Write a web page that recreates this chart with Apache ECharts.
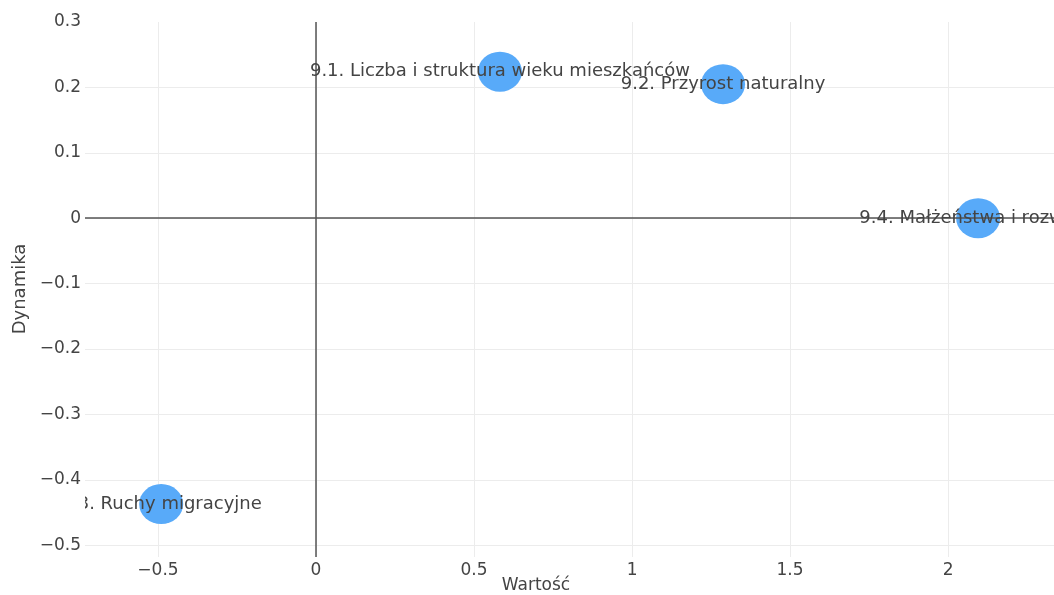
<!DOCTYPE html>
<html>
<head>
<meta charset="utf-8">
<script src="https://cdn.jsdelivr.net/npm/echarts@6/dist/echarts.min.js"></script>
<style>
html,body{margin:0;padding:0;background:#fff;overflow:hidden;}
#chart{width:1054px;height:595px;}
</style>
</head>
<body>
<div id="chart"></div>
<script>
const names = [
  "9.1. Liczba i struktura wieku mieszkańców",
  "9.2. Przyrost naturalny",
  "9.3. Ruchy migracyjne",
  "9.4. Małżeństwa i rozwody"
];
const wartosc = [0.582, 1.288, -0.49, 2.095];
const dynamika = [0.224, 0.205, -0.437, 0.0];
const xTitle = "Wartość";
const yTitle = "Dynamika";

const points = names.map((n, i) => [wartosc[i], dynamika[i], n]);
const FONT = "DejaVu Sans";
const chart = echarts.init(document.getElementById('chart'), null, {renderer: 'canvas'});

const fmtStep = step => v => {
  const r = Math.round(v / step) * step;
  if (Math.abs(v - r) > 1e-6) return '';
  return String(Math.round(r * 10) / 10).replace('-', '\u2212');
};

chart.setOption({
  backgroundColor: '#fff',
  animation: false,
  grid: {left: 85, right: -60, top: 22, bottom: 38, containLabel: false, outerBoundsMode: 'none'},
  xAxis: {
    type: 'value', min: -0.731, max: 2.525, minInterval: 0.5, maxInterval: 0.5,
    axisLine: {show: false}, axisTick: {show: false},
    splitLine: {show: true, showMinLine: false, showMaxLine: false, lineStyle: {color: '#ececec', width: 1}},
    axisLabel: {color: '#444', fontFamily: FONT, fontSize: 17, margin: 5, formatter: fmtStep(0.5)}
  },
  yAxis: {
    type: 'value', min: -0.518, max: 0.3, minInterval: 0.1, maxInterval: 0.1,
    axisLine: {show: false}, axisTick: {show: false},
    splitLine: {show: true, showMinLine: false, showMaxLine: false, lineStyle: {color: '#ececec', width: 1}},
    axisLabel: {color: '#444', fontFamily: FONT, fontSize: 17, margin: 4, formatter: fmtStep(0.1)}
  },
  graphic: [
    {type: 'text', x: 536, y: 586, style: {text: xTitle, fill: '#444', fontFamily: FONT, fontSize: 17, align: 'center', verticalAlign: 'middle'}},
    {type: 'text', x: 20, y: 289, rotation: Math.PI / 2, style: {text: yTitle, fill: '#444', fontFamily: FONT, fontSize: 18, align: 'center', verticalAlign: 'middle'}}
  ],
  series: [
    {
      type: 'scatter',
      data: points,
      symbol: 'circle',
      symbolSize: [44, 40],
      itemStyle: {color: '#58aaf9', opacity: 1},
      z: 3,
      markLine: {
        silent: true, symbol: 'none', animation: false,
        label: {show: false},
        lineStyle: {color: '#555', width: 1.5, type: 'solid'},
        data: [{xAxis: 0}, {yAxis: 0}]
      }
    },
    {
      type: 'custom',
      clip: true,
      z: 5,
      data: points,
      renderItem: (params, api) => {
        const p = api.coord([api.value(0), api.value(1)]);
        return {
          type: 'text', x: p[0], y: p[1],
          style: {text: names[params.dataIndex], fill: '#444', fontFamily: FONT, fontSize: 18, align: 'center', verticalAlign: 'middle'}
        };
      }
    }
  ]
});
</script>
</body>
</html>
